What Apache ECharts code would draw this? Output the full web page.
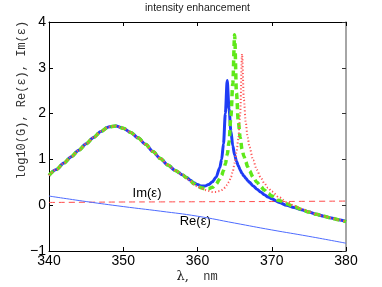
<!DOCTYPE html>
<html>
<head>
<meta charset="utf-8">
<script src="https://cdn.jsdelivr.net/npm/echarts@6/dist/echarts.min.js"></script>
<style>html,body{margin:0;padding:0;background:#fff}#c{width:382px;height:287px}</style>
</head>
<body>
<div id="c"></div>
<script>
// wavelength grid (nm)
var wl = [340,341,342,343,344,345,346,347,348,349,350,351,352,353,354,355,356,357,358,
  358.5,359,359.5,360,360.5,361,361.5,362,362.5,363,
  363.25,363.5,363.75,364,364.25,364.5,364.75,365,365.25,365.5,365.75,366,366.25,366.5,366.75,367,
  367.5,368,368.5,369,369.5,370,
  371,372,373,374,375,376,377,378,379,380];
// log10(G), solid blue
var gBlue = [0.65,0.78,0.92,1.06,1.20,1.34,1.48,1.61,1.71,1.73,1.68,1.59,1.47,1.33,1.17,1.02,0.88,0.76,0.66,
  0.61,0.55,0.49,0.45,0.42,0.42,0.45,0.51,0.61,0.82,
  1.00,1.34,2.00,2.72,2.10,1.62,1.30,1.10,0.96,0.86,0.77,0.69,0.64,0.59,0.54,0.50,
  0.42,0.35,0.29,0.23,0.18,0.14,
  0.06,0.00,-0.05,-0.10,-0.15,-0.20,-0.24,-0.28,-0.32,-0.36];
// log10(G), dashed green
var gGreen = [0.65,0.78,0.92,1.06,1.20,1.34,1.48,1.61,1.71,1.73,1.68,1.59,1.47,1.33,1.17,1.02,0.88,0.76,0.66,
  0.60,0.54,0.47,0.42,0.38,0.36,0.36,0.39,0.46,0.57,
  0.65,0.76,0.90,1.10,1.38,1.95,2.65,3.72,2.45,1.82,1.48,1.22,1.07,0.95,0.84,0.75,
  0.61,0.50,0.41,0.33,0.26,0.20,
  0.10,0.03,-0.03,-0.09,-0.15,-0.20,-0.24,-0.28,-0.32,-0.36];
// log10(G), dotted red
var gRed = [0.65,0.78,0.92,1.06,1.20,1.34,1.48,1.61,1.71,1.73,1.68,1.59,1.47,1.33,1.17,1.02,0.88,0.76,0.66,
  0.60,0.53,0.46,0.41,0.37,0.33,0.31,0.29,0.29,0.31,
  0.33,0.35,0.39,0.44,0.51,0.61,0.74,0.92,1.15,1.45,2.00,3.30,2.30,1.80,1.48,1.27,
  0.98,0.77,0.61,0.48,0.38,0.30,
  0.17,0.07,-0.01,-0.08,-0.14,-0.20,-0.24,-0.28,-0.32,-0.36];
// Re(eps) and Im(eps)
var epsWl = [340,345,350,355,360,365,370,375,380];
var reEps = [0.20,0.08,-0.03,-0.13,-0.24,-0.39,-0.54,-0.68,-0.83];
var imEps = [0.06,0.065,0.07,0.072,0.075,0.078,0.08,0.085,0.09];
var xTicks = [340,350,360,370,380];
var yTicks = [-1,0,1,2,3,4];
var labelPos = {im:[353.2,0.26], re:[359.7,-0.35]};

function pairs(xs, ys){ return xs.map(function(x,i){return [x, ys[i]];}); }

var chart = echarts.init(document.getElementById('c'), null, {renderer:'canvas'});
var tickFont = {fontFamily:'Liberation Sans, Arial, sans-serif', fontSize:14, color:'#000'};
var opt = {
  animation:false,
  grid:{left:49, right:36, top:22, bottom:36, containLabel:false},
  xAxis:[{
    type:'value', min:xTicks[0], max:xTicks[xTicks.length-1], interval:10, position:'bottom',
    axisLine:{show:true, onZero:false, lineStyle:{color:'#000', width:1}},
    axisTick:{show:true, inside:true, length:4, lineStyle:{color:'#000'}},
    axisLabel:Object.assign({margin:3}, tickFont),
    splitLine:{show:false}
  },{
    type:'value', min:xTicks[0], max:xTicks[xTicks.length-1], interval:10, position:'top',
    axisLine:{show:true, onZero:false, lineStyle:{color:'#000', width:1}},
    axisTick:{show:true, inside:true, length:4, lineStyle:{color:'#000'}},
    axisLabel:{show:false}, splitLine:{show:false}
  }],
  yAxis:[{
    type:'value', min:yTicks[0], max:yTicks[yTicks.length-1], interval:1, position:'left',
    axisLine:{show:true, onZero:false, lineStyle:{color:'#000', width:1}},
    axisTick:{show:true, inside:true, length:4, lineStyle:{color:'#000'}},
    axisLabel:Object.assign({margin:3, formatter:function(v){return String(v).replace('-', '\u2212');}}, tickFont),
    splitLine:{show:false}
  },{
    type:'value', min:yTicks[0], max:yTicks[yTicks.length-1], interval:1, position:'right',
    axisLine:{show:true, onZero:false, lineStyle:{color:'#888', width:1.5}},
    axisTick:{show:true, inside:true, length:4, lineStyle:{color:'#333'}},
    axisLabel:{show:false}, splitLine:{show:false}
  }],
  series:[
    {type:'line', data:pairs(epsWl, imEps), showSymbol:false, smooth:true,
      lineStyle:{color:'#ff4a4a', width:1, type:[6,4]}},
    {type:'line', data:pairs(epsWl, reEps), showSymbol:false, smooth:true,
      lineStyle:{color:'#4d6bff', width:1}},
    {type:'line', data:pairs(wl, gBlue), showSymbol:false, smooth:0.3, smoothMonotone:'x',
      lineStyle:{color:'#1f3cf5', width:3}},
    {type:'line', data:pairs(wl, gGreen), showSymbol:false, smooth:0.3, smoothMonotone:'x',
      lineStyle:{color:'#5fe81a', width:3.5, type:[6,4]}},
    {type:'line', data:pairs(wl, gRed), showSymbol:false, smooth:0.3, smoothMonotone:'x',
      lineStyle:{color:'#ff5a5a', width:2, type:[1.2,2.2]}}
  ]
};
chart.setOption(opt);

var pIm = chart.convertToPixel({gridIndex:0}, labelPos.im);
var pRe = chart.convertToPixel({gridIndex:0}, labelPos.re);
chart.setOption({graphic:[
  {type:'text', x:197.5, y:8, style:{text:'intensity enhancement', fill:'#222', fontSize:10.5,
    fontFamily:'Liberation Sans, Arial, sans-serif', align:'center', verticalAlign:'middle'}},
  {type:'text', x:pIm[0], y:pIm[1], style:{text:'Im(\u03b5)', fill:'#000', fontSize:13,
    fontFamily:'Liberation Sans, Arial, sans-serif', align:'center', verticalAlign:'middle'}},
  {type:'text', x:pRe[0], y:pRe[1], style:{text:'Re(\u03b5)', fill:'#000', fontSize:13,
    fontFamily:'Liberation Sans, Arial, sans-serif', align:'center', verticalAlign:'middle'}},
  {type:'text', x:22, y:100, rotation:Math.PI/2, style:{text:'log10(G), Re(\u03b5), Im(\u03b5)',
    fill:'#333', fontSize:12, fontFamily:'Liberation Mono, DejaVu Sans Mono, monospace',
    align:'center', verticalAlign:'middle'}},
  {type:'text', x:197, y:277, style:{text:'{a|\u03bb,}{b|  nm}', align:'center', verticalAlign:'middle',
    rich:{a:{fontSize:13, fontFamily:'DejaVu Serif, serif', fill:'#222'},
          b:{fontSize:12, fontFamily:'Liberation Mono, monospace', fill:'#333'}}}}
]});
</script>
</body>
</html>
